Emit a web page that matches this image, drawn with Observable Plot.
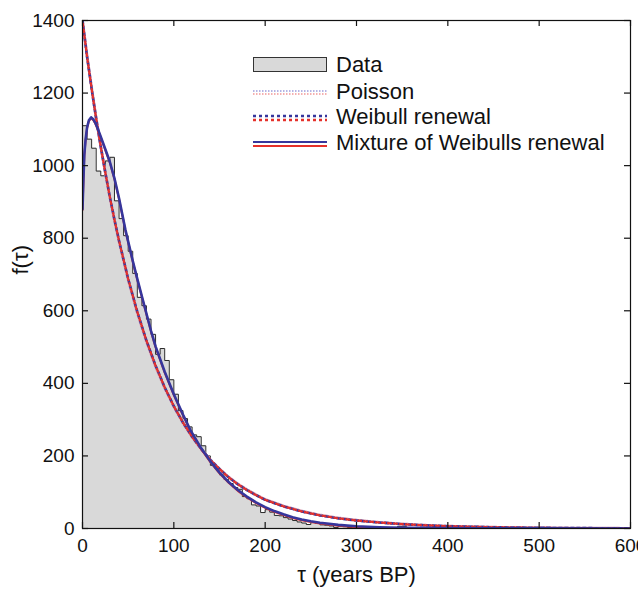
<!DOCTYPE html>
<html>
<head>
<meta charset="utf-8">
<script src="https://cdn.jsdelivr.net/npm/d3@7"></script>
<script src="https://cdn.jsdelivr.net/npm/@observablehq/plot@0.6"></script>
<style>
  html, body { margin: 0; padding: 0; background: #fff; }
  #wrap { position: relative; width: 638px; height: 592px; font-family: "Liberation Sans", Arial, sans-serif; color: #111; }
  .lg { position: absolute; font-size: 22px; line-height: 22px; white-space: nowrap; }
</style>
</head>
<body>
<div id="wrap"></div>
<script>
// ---- data ----
const binWidth = 5; // years per histogram bin
const histValues = [1110,1073,1048,985,972,1013,1023,903,854,807,
  764,703,637,614,577,535,480,496,463,410,
  370,325,303,280,258,253,228,200,174,165,
  148,135,124,113,108,88,82,65,62,44,
  52,45,36,35,30,26,22,18,15,11,
  17,14,10,9,7,3,6,5,3,4,
  2,3,1,2,3,1,2,1,1,6,
  5,2,1,1,2,1,0,1,1,0];

const tauExp = [0,5,10,15,20,25,30,35,40,50,60,70,80,90,100,110,120,130,140,150,160,170,180,190,200,220,240,260,280,300,325,350,375,400,450,500,550,600];
const poissonValues = [1400,1303,1214,1130,1052,980,912,849,791,685,594,515,446,387,336,291,252,219,189,164,142,123,107,93,80,62,48,37,29,23,17,12.5,9,6.5,3.5,1.9,1,0.5];
const weibullValues = [1400,1300,1212,1129,1052,981,913,851,793,688,597,518,449,389,337,292,253,219,189,164,141,122,106,92,79,61,47,36,28,22,16.5,12,8.7,6.3,3.4,1.8,1,0.5];

const tauMix = [0,1,2,3.3,5,7,9.5,12,14,17,20,25,30,35,40,47,55,60,65,75,80,90,100,110,118,130,140,150,160,170,180,190,200,210,220,230,240,250,260,270,280,300,325,350,400,450,500,600];
const mixValues = [880,960,1030,1070,1105,1125,1133,1127,1118,1100,1080,1045,1010,965,910,823,738,688,640,545,502,432,370,314,272,221,185,154,128,106,88,72,59,48,39,31,25,20,16,13,10,6.2,3.6,2.2,1,0.5,0.3,0.1];

const xTicks = [0,100,200,300,400,500,600];
const yTicks = [0,200,400,600,800,1000,1200,1400];

const legendLabels = ["Data","Poisson","Weibull renewal","Mixture of Weibulls renewal"];

// ---- build tables ----
const hist = histValues.map((v, i) => ({x: i * binWidth, v}));
hist.push({x: histValues.length * binWidth, v: histValues[histValues.length - 1]});
const poisson = tauExp.map((t, i) => ({t, v: poissonValues[i]}));
const weibull = tauExp.map((t, i) => ({t, v: weibullValues[i]}));
const mix = tauMix.map((t, i) => ({t, v: mixValues[i]}));

const blue = "#36369c", red = "#e5302a", lblue = "#b4b4e4", lred = "#f4b0b0";
const W = 638, H = 592, mL = 82, mR = 8, mT = 20, mB = 64;
const pw = W - mL - mR, ph = H - mT - mB;

const chart = Plot.plot({
  width: W, height: H,
  marginLeft: mL, marginRight: mR, marginTop: mT, marginBottom: mB,
  x: {domain: [0, 600]},
  y: {domain: [0, 1400]},
  style: {fontFamily: "'Liberation Sans', Arial, sans-serif", color: "#111", background: "white", overflow: "visible"},
  marks: [
    Plot.areaY(hist, {x: "x", y: "v", curve: "step-after", fill: "#d9d9d9"}),
    Plot.lineY(hist, {x: "x", y: "v", curve: "step-after", stroke: "#2a2a2a", strokeWidth: 1}),
    // Poisson (light, fine dots)
    Plot.line(poisson, {x: "t", y: "v", stroke: lblue, strokeWidth: 2.8, strokeDasharray: "1.5,1.5", clip: true}),
    Plot.line(poisson, {x: "t", y: "v", stroke: lred, strokeWidth: 2.8, strokeDasharray: "1.5,1.5", strokeDashoffset: 1.5, clip: true}),
    // Weibull renewal (dark dots)
    Plot.line(weibull, {x: "t", y: "v", stroke: blue, strokeWidth: 2.6, strokeDasharray: "3,3", clip: true}),
    Plot.line(weibull, {x: "t", y: "v", stroke: red, strokeWidth: 2.1, strokeDasharray: "3,3", strokeDashoffset: 3, clip: true}),
    // Mixture of Weibulls renewal
    Plot.line(mix, {x: "t", y: "v", stroke: red, strokeWidth: 2, dy: 0.8, clip: true}),
    Plot.line(mix, {x: "t", y: "v", stroke: blue, strokeWidth: 2.6, clip: true}),
    Plot.frame({stroke: "#111", strokeWidth: 1.2}),
    // inward ticks
    Plot.ruleX(xTicks, {x: d => d, insetTop: ph - 6, stroke: "#111", strokeWidth: 1.2}),
    Plot.ruleX(xTicks, {x: d => d, insetBottom: ph - 6, stroke: "#111", strokeWidth: 1.2}),
    Plot.ruleY(yTicks, {y: d => d, insetRight: pw - 6, stroke: "#111", strokeWidth: 1.2}),
    Plot.ruleY(yTicks, {y: d => d, insetLeft: pw - 6, stroke: "#111", strokeWidth: 1.2}),
    Plot.axisX({ticks: xTicks, tickFormat: d => String(d), tickSize: 0, tickPadding: 10, fontSize: 19, label: null}),
    Plot.axisY({ticks: yTicks, tickFormat: d => String(d), tickSize: 0, tickPadding: 8, fontSize: 19, label: null}),
    Plot.text(["τ (years BP)"], {frameAnchor: "bottom", dy: 53, fontSize: 22, fill: "#111"}),
    Plot.text(["f(τ)"], {frameAnchor: "left", dx: -62, rotate: -90, fontSize: 22, fill: "#111"})
  ]
});

const wrap = document.getElementById("wrap");
wrap.appendChild(chart);

// ---- legend overlay ----
function addSwatch(top, kind) {
  const ns = "http://www.w3.org/2000/svg";
  const s = document.createElementNS(ns, "svg");
  s.setAttribute("width", 76); s.setAttribute("height", 20);
  s.style.position = "absolute"; s.style.left = "252px"; s.style.top = top + "px";
  const mk = (y, color, w, dash, off) => {
    const l = document.createElementNS(ns, "line");
    l.setAttribute("x1", 1); l.setAttribute("x2", 75);
    l.setAttribute("y1", y); l.setAttribute("y2", y);
    l.setAttribute("stroke", color); l.setAttribute("stroke-width", w);
    if (dash) l.setAttribute("stroke-dasharray", dash);
    if (off) l.setAttribute("stroke-dashoffset", off);
    s.appendChild(l);
  };
  if (kind === "data") {
    const r = document.createElementNS(ns, "rect");
    r.setAttribute("x", 1.5); r.setAttribute("y", 1.5); r.setAttribute("width", 73); r.setAttribute("height", 14);
    r.setAttribute("fill", "#d9d9d9"); r.setAttribute("stroke", "#333"); r.setAttribute("stroke-width", 1);
    s.appendChild(r);
  } else if (kind === "poisson") {
    mk(4, lblue, 2, "1.5,1.5"); mk(7, lred, 2, "1.5,1.5");
  } else if (kind === "weibull") {
    mk(4, blue, 2.5, "3,3"); mk(8, red, 2.5, "3,3");
  } else {
    mk(4, blue, 2.2); mk(8, red, 2.2);
  }
  wrap.appendChild(s);
}
const kinds = ["data","poisson","weibull","mix"];
const swTop = [56, 87, 112, 138];
const txTop = [54, 81, 106, 132];
legendLabels.forEach((lab, i) => {
  addSwatch(swTop[i], kinds[i]);
  const d = document.createElement("div");
  d.className = "lg"; d.textContent = lab;
  d.style.left = "336px"; d.style.top = txTop[i] + "px";
  wrap.appendChild(d);
});
</script>
</body>
</html>
